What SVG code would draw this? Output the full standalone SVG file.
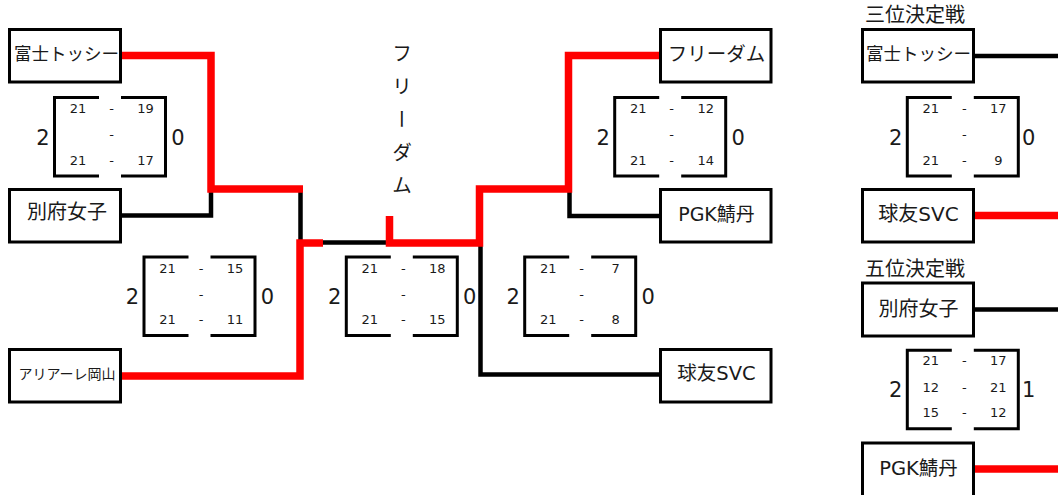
<svg xmlns="http://www.w3.org/2000/svg" width="1058" height="495" viewBox="0 0 1058 495">
<style>
.box{fill:#fff;stroke:#000;stroke-width:3}
.br{fill:none;stroke:#000;stroke-width:3}
.k{fill:none;stroke:#000;stroke-width:4.5;stroke-linejoin:miter}
.r{fill:none;stroke:#f00;stroke-width:7.5;stroke-linejoin:miter}
text{font-family:"DejaVu Sans","Noto Sans CJK JP",sans-serif;fill:#1a1a1a}
.nm{text-anchor:middle}
.sc{font-size:13px;text-anchor:middle}
.st{font-size:21px;text-anchor:middle}
.ttl{font-size:20px;font-family:"Noto Sans CJK JP",sans-serif}
.v{font-family:"Noto Sans CJK JP",sans-serif;font-size:20px;writing-mode:vertical-rl;letter-spacing:13px}
</style>
<defs>
<path id="bk" class="br" d="M44.5 0H0V78.5H44.5M66.5 0H111V78.5H66.5"/>
</defs>
<rect width="1058" height="495" fill="#fff"/>

<g id="connectors">
<path class="k" d="M121 215.5H211V192"/>
<path class="k" d="M300.5 192V242.5H389"/>
<path class="k" d="M569.5 192V216H660"/>
<path class="k" d="M480.5 246V374.5H660"/>
<path class="k" d="M974 56H1060"/>
<path class="k" d="M974 309.5H1060"/>
<path class="r" d="M121 55.5H211V189H303"/>
<path class="r" d="M121 376H300V243H323"/>
<path class="r" d="M389.5 216V243H479.5V189H568.5V55.5H660"/>
<path class="r" d="M974 215.5H1060"/>
<path class="r" d="M974 469H1060"/>
</g>

<g id="champion">
<text class="v" x="402" y="43.5">フリーダム</text>
</g>

<g id="team-fuji"><rect class="box" x="9.5" y="29.5" width="111" height="52.5"/><text class="nm" x="66.5" y="60" font-size="17.5">富士トッシー</text></g>
<g id="team-beppu"><rect class="box" x="9.5" y="189.5" width="111" height="52.5"/><text class="nm" x="67" y="218.5" font-size="20">別府女子</text></g>
<g id="team-ariare"><rect class="box" x="9.5" y="349.5" width="111" height="52.5"/><text class="nm" x="67" y="378.6" font-size="14">アリアーレ岡山</text></g>
<g id="team-freedom"><rect class="box" x="660.5" y="29.5" width="110.5" height="52.5"/><text class="nm" x="716.5" y="60.5" font-size="19.5">フリーダム</text></g>
<g id="team-pgk"><rect class="box" x="660.5" y="189.5" width="110.5" height="52.5"/><text class="nm" x="716.5" y="220.5" font-size="19">PGK鯖丹</text></g>
<g id="team-kyuyu"><rect class="box" x="660.5" y="349.5" width="110.5" height="52.5"/><text class="nm" x="716.5" y="379.5" font-size="19.5">球友SVC</text></g>

<g id="third-place">
<text class="ttl" x="865" y="22">三位決定戦</text>
<g id="third-fuji"><rect class="box" x="862.5" y="29.5" width="111" height="52.5"/><text class="nm" x="918.5" y="60" font-size="17.5">富士トッシー</text></g>
<g id="third-kyuyu"><rect class="box" x="862.5" y="189.5" width="111" height="52.5"/><text class="nm" x="918.5" y="220.5" font-size="20">球友SVC</text></g>
</g>
<g id="fifth-place">
<text class="ttl" x="865" y="275.5">五位決定戦</text>
<g id="fifth-beppu"><rect class="box" x="862.5" y="283" width="111" height="53"/><text class="nm" x="918.5" y="316" font-size="20">別府女子</text></g>
<g id="fifth-pgk"><rect class="box" x="862.5" y="443" width="111" height="56"/><text class="nm" x="918.5" y="474.8" font-size="19.5">PGK鯖丹</text></g>
</g>

<g id="score-a" transform="translate(54.5 97.5)"><use href="#bk"/>
<text class="sc" x="23.5" y="15.5">21</text><text class="sc" x="57" y="15.5">-</text><text class="sc" x="91" y="15.5">19</text>
<text class="sc" x="57" y="41.5">-</text>
<text class="sc" x="23.5" y="67">21</text><text class="sc" x="57" y="67">-</text><text class="sc" x="91" y="67">17</text>
<text class="st" x="-11.5" y="47">2</text><text class="st" x="123.5" y="47">0</text></g>

<g id="score-b" transform="translate(144 257)"><use href="#bk"/>
<text class="sc" x="23.5" y="15.5">21</text><text class="sc" x="57" y="15.5">-</text><text class="sc" x="91" y="15.5">15</text>
<text class="sc" x="57" y="41.5">-</text>
<text class="sc" x="23.5" y="67">21</text><text class="sc" x="57" y="67">-</text><text class="sc" x="91" y="67">11</text>
<text class="st" x="-11.5" y="47">2</text><text class="st" x="123.5" y="47">0</text></g>

<g id="score-c" transform="translate(346.3 257)"><use href="#bk"/>
<text class="sc" x="23.5" y="15.5">21</text><text class="sc" x="57" y="15.5">-</text><text class="sc" x="91" y="15.5">18</text>
<text class="sc" x="57" y="41.5">-</text>
<text class="sc" x="23.5" y="67">21</text><text class="sc" x="57" y="67">-</text><text class="sc" x="91" y="67">15</text>
<text class="st" x="-11.5" y="47">2</text><text class="st" x="123.5" y="47">0</text></g>

<g id="score-d" transform="translate(614.7 97.5)"><use href="#bk"/>
<text class="sc" x="23.5" y="15.5">21</text><text class="sc" x="57" y="15.5">-</text><text class="sc" x="91" y="15.5">12</text>
<text class="sc" x="57" y="41.5">-</text>
<text class="sc" x="23.5" y="67">21</text><text class="sc" x="57" y="67">-</text><text class="sc" x="91" y="67">14</text>
<text class="st" x="-11.5" y="47">2</text><text class="st" x="123.5" y="47">0</text></g>

<g id="score-e" transform="translate(524.7 257)"><use href="#bk"/>
<text class="sc" x="23.5" y="15.5">21</text><text class="sc" x="57" y="15.5">-</text><text class="sc" x="91" y="15.5">7</text>
<text class="sc" x="57" y="41.5">-</text>
<text class="sc" x="23.5" y="67">21</text><text class="sc" x="57" y="67">-</text><text class="sc" x="91" y="67">8</text>
<text class="st" x="-11.5" y="47">2</text><text class="st" x="123.5" y="47">0</text></g>

<g id="score-f" transform="translate(907.3 97.5)"><use href="#bk"/>
<text class="sc" x="23.5" y="15.5">21</text><text class="sc" x="57" y="15.5">-</text><text class="sc" x="91" y="15.5">17</text>
<text class="sc" x="57" y="41.5">-</text>
<text class="sc" x="23.5" y="67">21</text><text class="sc" x="57" y="67">-</text><text class="sc" x="91" y="67">9</text>
<text class="st" x="-11.5" y="47">2</text><text class="st" x="121.5" y="47">0</text></g>

<g id="score-g" transform="translate(907.3 350.3)"><use href="#bk"/>
<text class="sc" x="23.5" y="15">21</text><text class="sc" x="57" y="15">-</text><text class="sc" x="91" y="15">17</text>
<text class="sc" x="23.5" y="41.5">12</text><text class="sc" x="57" y="41.5">-</text><text class="sc" x="91" y="41.5">21</text>
<text class="sc" x="23.5" y="67">15</text><text class="sc" x="57" y="67">-</text><text class="sc" x="91" y="67">12</text>
<text class="st" x="-11.5" y="47">2</text><text class="st" x="121.5" y="47">1</text></g>
</svg>
